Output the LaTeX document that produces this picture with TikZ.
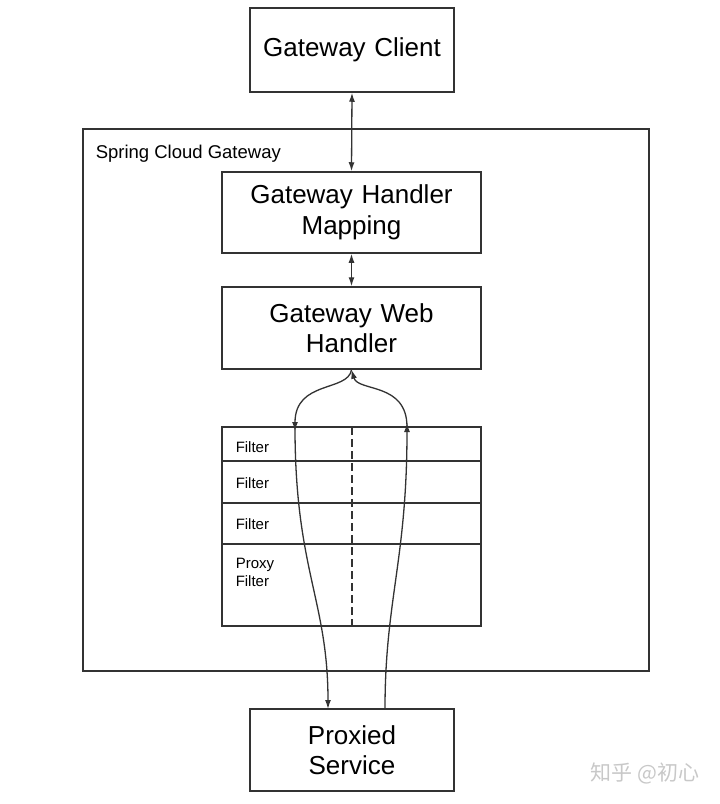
\documentclass[tikz,border=0pt]{standalone}
\usepackage{fontspec}
\setmainfont{Liberation Sans}
\newfontfamily\cjkfont{Noto Sans CJK SC}
\usetikzlibrary{arrows.meta}
\definecolor{linegray}{HTML}{333333}
\definecolor{markgray}{HTML}{C8C8C8}

\begin{document}
\begin{tikzpicture}[x=1pt,y=-1pt, line width=1.5pt,
  box/.style={draw=linegray, inner sep=0pt, text width=250pt, align=center,
    font=\fontsize{26}{30.5}\selectfont},
  small/.style={anchor=west, inner sep=0pt, align=left,
    font=\fontsize{15}{18}\selectfont},
  arr/.style={draw=linegray, line width=1.3pt, -{Latex[length=9pt,width=6pt]}},
  darr/.style={arr, {Latex[length=9pt,width=6pt]}-{Latex[length=9pt,width=6pt]}}]
  \useasboundingbox (0,0) rectangle (720,804);

  \node[box, minimum width=204pt, minimum height=84pt, text width=190pt] (client) at (352,50) {Gateway Client};

  % outer gateway
  \draw[linegray] (83,129) rectangle (649,671);
  \node[small, font=\fontsize{18.5}{22}\selectfont] (scg) at (95,154) {Spring Cloud Gateway};

  \node[box, minimum width=259pt, minimum height=81pt] (mapping) at (351.5,212.5) {Gateway Handler\\Mapping};
  \node[box, minimum width=259pt, minimum height=82pt] (web) at (351.5,328) {Gateway Web\\Handler};

  % filter chain
  \node[draw=linegray, inner sep=0pt, minimum width=259pt, minimum height=199pt] (chain) at (351.5,526.5) {};
  \foreach \y in {461,503,544}
    \draw[linegray] (222,\y) -- (481,\y);
  \draw[linegray, dashed, dash pattern=on 8pt off 4pt] (352,427) -- (352,626);

  \node[small] (f1) at (235,447) {Filter};
  \node[small] (f2) at (235,483) {Filter};
  \node[small] (f3) at (235,524) {Filter};
  \node[small, anchor=north west] (f4) at (235,557) {Proxy\\Filter};

  \node[box, minimum width=204pt, minimum height=82pt, text width=190pt] (proxied) at (352,750) {Proxied\\Service};

  \coordinate (inL) at (295,427);
  \coordinate (inR) at (407,427);
  \coordinate (outL) at (328,709);
  \coordinate (outR) at (385,709);

  \draw[darr] (client.south) -- (mapping.north);
  \draw[darr] (mapping.south) -- (web.north);

  \draw[arr] (web.south) .. controls (348,392) and (295,380) .. ([yshift=-4pt]inL);
  \draw[arr] (inR) .. controls (407,382) and (358,392) .. (web.south);
  \draw[arr] (inL) .. controls (295,570) and (328,600) .. (outL);
  \draw[arr] (outR) .. controls (385,600) and (407,560) .. ([yshift=4pt]inR);

  \node[text=markgray, inner sep=0pt, font=\cjkfont\fontsize{21}{24}\selectfont] (mark) at (645,773) {知乎 @初心};
\end{tikzpicture}
\end{document}
